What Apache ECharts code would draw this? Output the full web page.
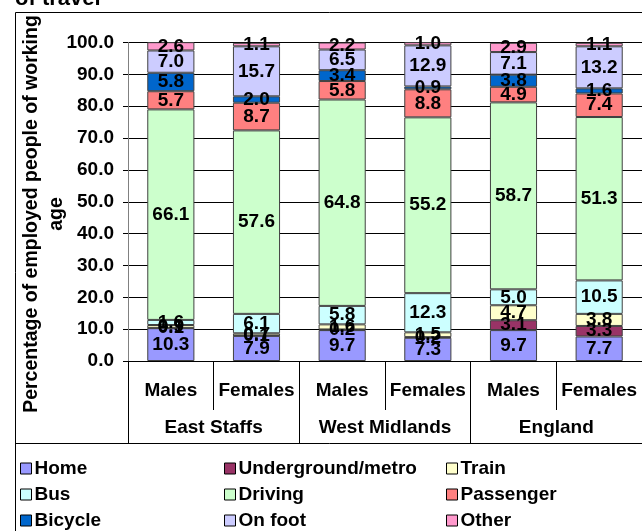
<!DOCTYPE html>
<html><head><meta charset="utf-8">
<script src="https://cdn.jsdelivr.net/npm/echarts@6/dist/echarts.min.js"></script>
<style>html,body{margin:0;padding:0;background:#fff}#c{width:642px;height:531px}</style>
</head><body><div id="c"></div>
<script>
var categories = ['Males','Females','Males','Females','Males','Females'];
var groups = ['East Staffs','West Midlands','England'];
var yTicks = [0,10,20,30,40,50,60,70,80,90,100];
var home        = [10.3, 7.9, 9.7, 7.3, 9.7, 7.7];
var underground = [0.1, 0.1, 0.2, 0.2, 3.1, 3.3];
var train       = [0.9, 0.7, 1.6, 1.5, 4.7, 3.8];
var bus         = [1.6, 6.1, 5.8, 12.3, 5.0, 10.5];
var driving     = [66.1, 57.6, 64.8, 55.2, 58.7, 51.3];
var passenger   = [5.7, 8.7, 5.8, 8.8, 4.9, 7.4];
var bicycle     = [5.8, 2.0, 3.4, 0.9, 3.8, 1.6];
var onFoot      = [7.0, 15.7, 6.5, 12.9, 7.1, 13.2];
var other       = [2.6, 1.1, 2.2, 1.0, 2.9, 1.1];

var FONT = 'Liberation Sans, Arial, sans-serif';
var FS = 19;
var seriesDefs = [
  ['Home', home, '#9999FF'],
  ['Underground/metro', underground, '#993366'],
  ['Train', train, '#FFFFCC'],
  ['Bus', bus, '#CCFFFF'],
  ['Driving', driving, '#CCFFCC'],
  ['Passenger', passenger, '#FF8080'],
  ['Bicycle', bicycle, '#0066CC'],
  ['On foot', onFoot, '#CCCCFF'],
  ['Other', other, '#FF99CC']
];
var series = seriesDefs.map(function(d){
  return {
    name: d[0], type: 'bar', stack: 'all', data: d[1], barWidth: '55%',
    xAxisIndex: 0,
    itemStyle: {color: d[2], borderColor: '#404040', borderWidth: 1},
    label: {show: true, position: 'inside', color: '#000', fontFamily: FONT, fontWeight: 'bold', fontSize: FS,
      formatter: function(p){ return Number(p.value).toFixed(1); }},
    emphasis: {disabled: true}
  };
});
function legendCol(left, names){
  return {
    orient: 'vertical', left: left, top: 459, height: 120, padding: 0,
    itemWidth: 11, itemHeight: 11, itemGap: 7,
    icon: 'rect', selectedMode: false, data: names,
    textStyle: {fontFamily: FONT, fontWeight: 'bold', fontSize: FS, color: '#000', lineHeight: 19, padding: [0,0,0,-2]},
    itemStyle: {borderColor: '#000', borderWidth: 1}
  };
}
var chart = echarts.init(document.getElementById('c'));
chart.setOption({
  animation: false,
  backgroundColor: '#fff',
  grid: {left: 128, right: 0, top: 42.5, bottom: 170, containLabel: false},
  legend: [
    legendCol(20, ['Home','Bus','Bicycle']),
    legendCol(224, ['Underground/metro','Driving','On foot']),
    legendCol(446, ['Train','Passenger','Other'])
  ],
  xAxis: [
    {type: 'category', data: categories, position: 'bottom',
      axisLine: {show: true, lineStyle: {color: '#000', width: 1}},
      axisTick: {show: true, length: 49, interval: 0, lineStyle: {color: '#000'}},
      axisLabel: {interval: 0, margin: 20, color: '#000', fontFamily: FONT, fontWeight: 'bold', fontSize: FS}},
    {type: 'category', data: groups, position: 'bottom',
      axisLine: {show: false},
      axisTick: {show: true, length: 82, interval: 0, lineStyle: {color: '#000'}},
      axisLabel: {interval: 0, margin: 57, color: '#000', fontFamily: FONT, fontWeight: 'bold', fontSize: FS}}
  ],
  yAxis: {
    type: 'value', min: 0, max: 100, interval: 10,
    axisLine: {show: true, lineStyle: {color: '#808080', width: 1}},
    axisTick: {show: true, length: 5, lineStyle: {color: '#000'}},
    axisLabel: {margin: 14, color: '#000', fontFamily: FONT, fontWeight: 'bold', fontSize: FS,
      customValues: yTicks,
      formatter: function(v){ return Number(v).toFixed(1); }},
    splitLine: {show: true, lineStyle: {color: '#000', width: 1}}
  },
  graphic: [
    {type: 'rect', shape: {x: 15.5, y: 12.5, width: 700, height: 600}, style: {fill: 'none', stroke: '#000', lineWidth: 1}, z: -10, silent: true},
    {type: 'rect', shape: {x: 15.5, y: 443.5, width: 700, height: 200}, style: {fill: 'none', stroke: '#000', lineWidth: 1}, z: -10, silent: true},
    {type: 'text', x: 44, y: 214, rotation: Math.PI/2,
      style: {text: 'Percentage of employed people of working\nage', fill: '#000', font: 'bold 19.5px ' + FONT,
        align: 'center', verticalAlign: 'middle', lineHeight: 25}, silent: true},
    {type: 'rect', shape: {x: 0, y: 0, width: 642, height: 12}, style: {fill: '#fff'}, z: 50, silent: true},
    {type: 'text', x: 15, y: 10, z: 60,
      style: {text: 'of travel', fill: '#000', font: 'bold 22px ' + FONT, align: 'left', verticalAlign: 'bottom', lineHeight: 22}, silent: true}
  ],
  series: series
});
</script></body></html>
